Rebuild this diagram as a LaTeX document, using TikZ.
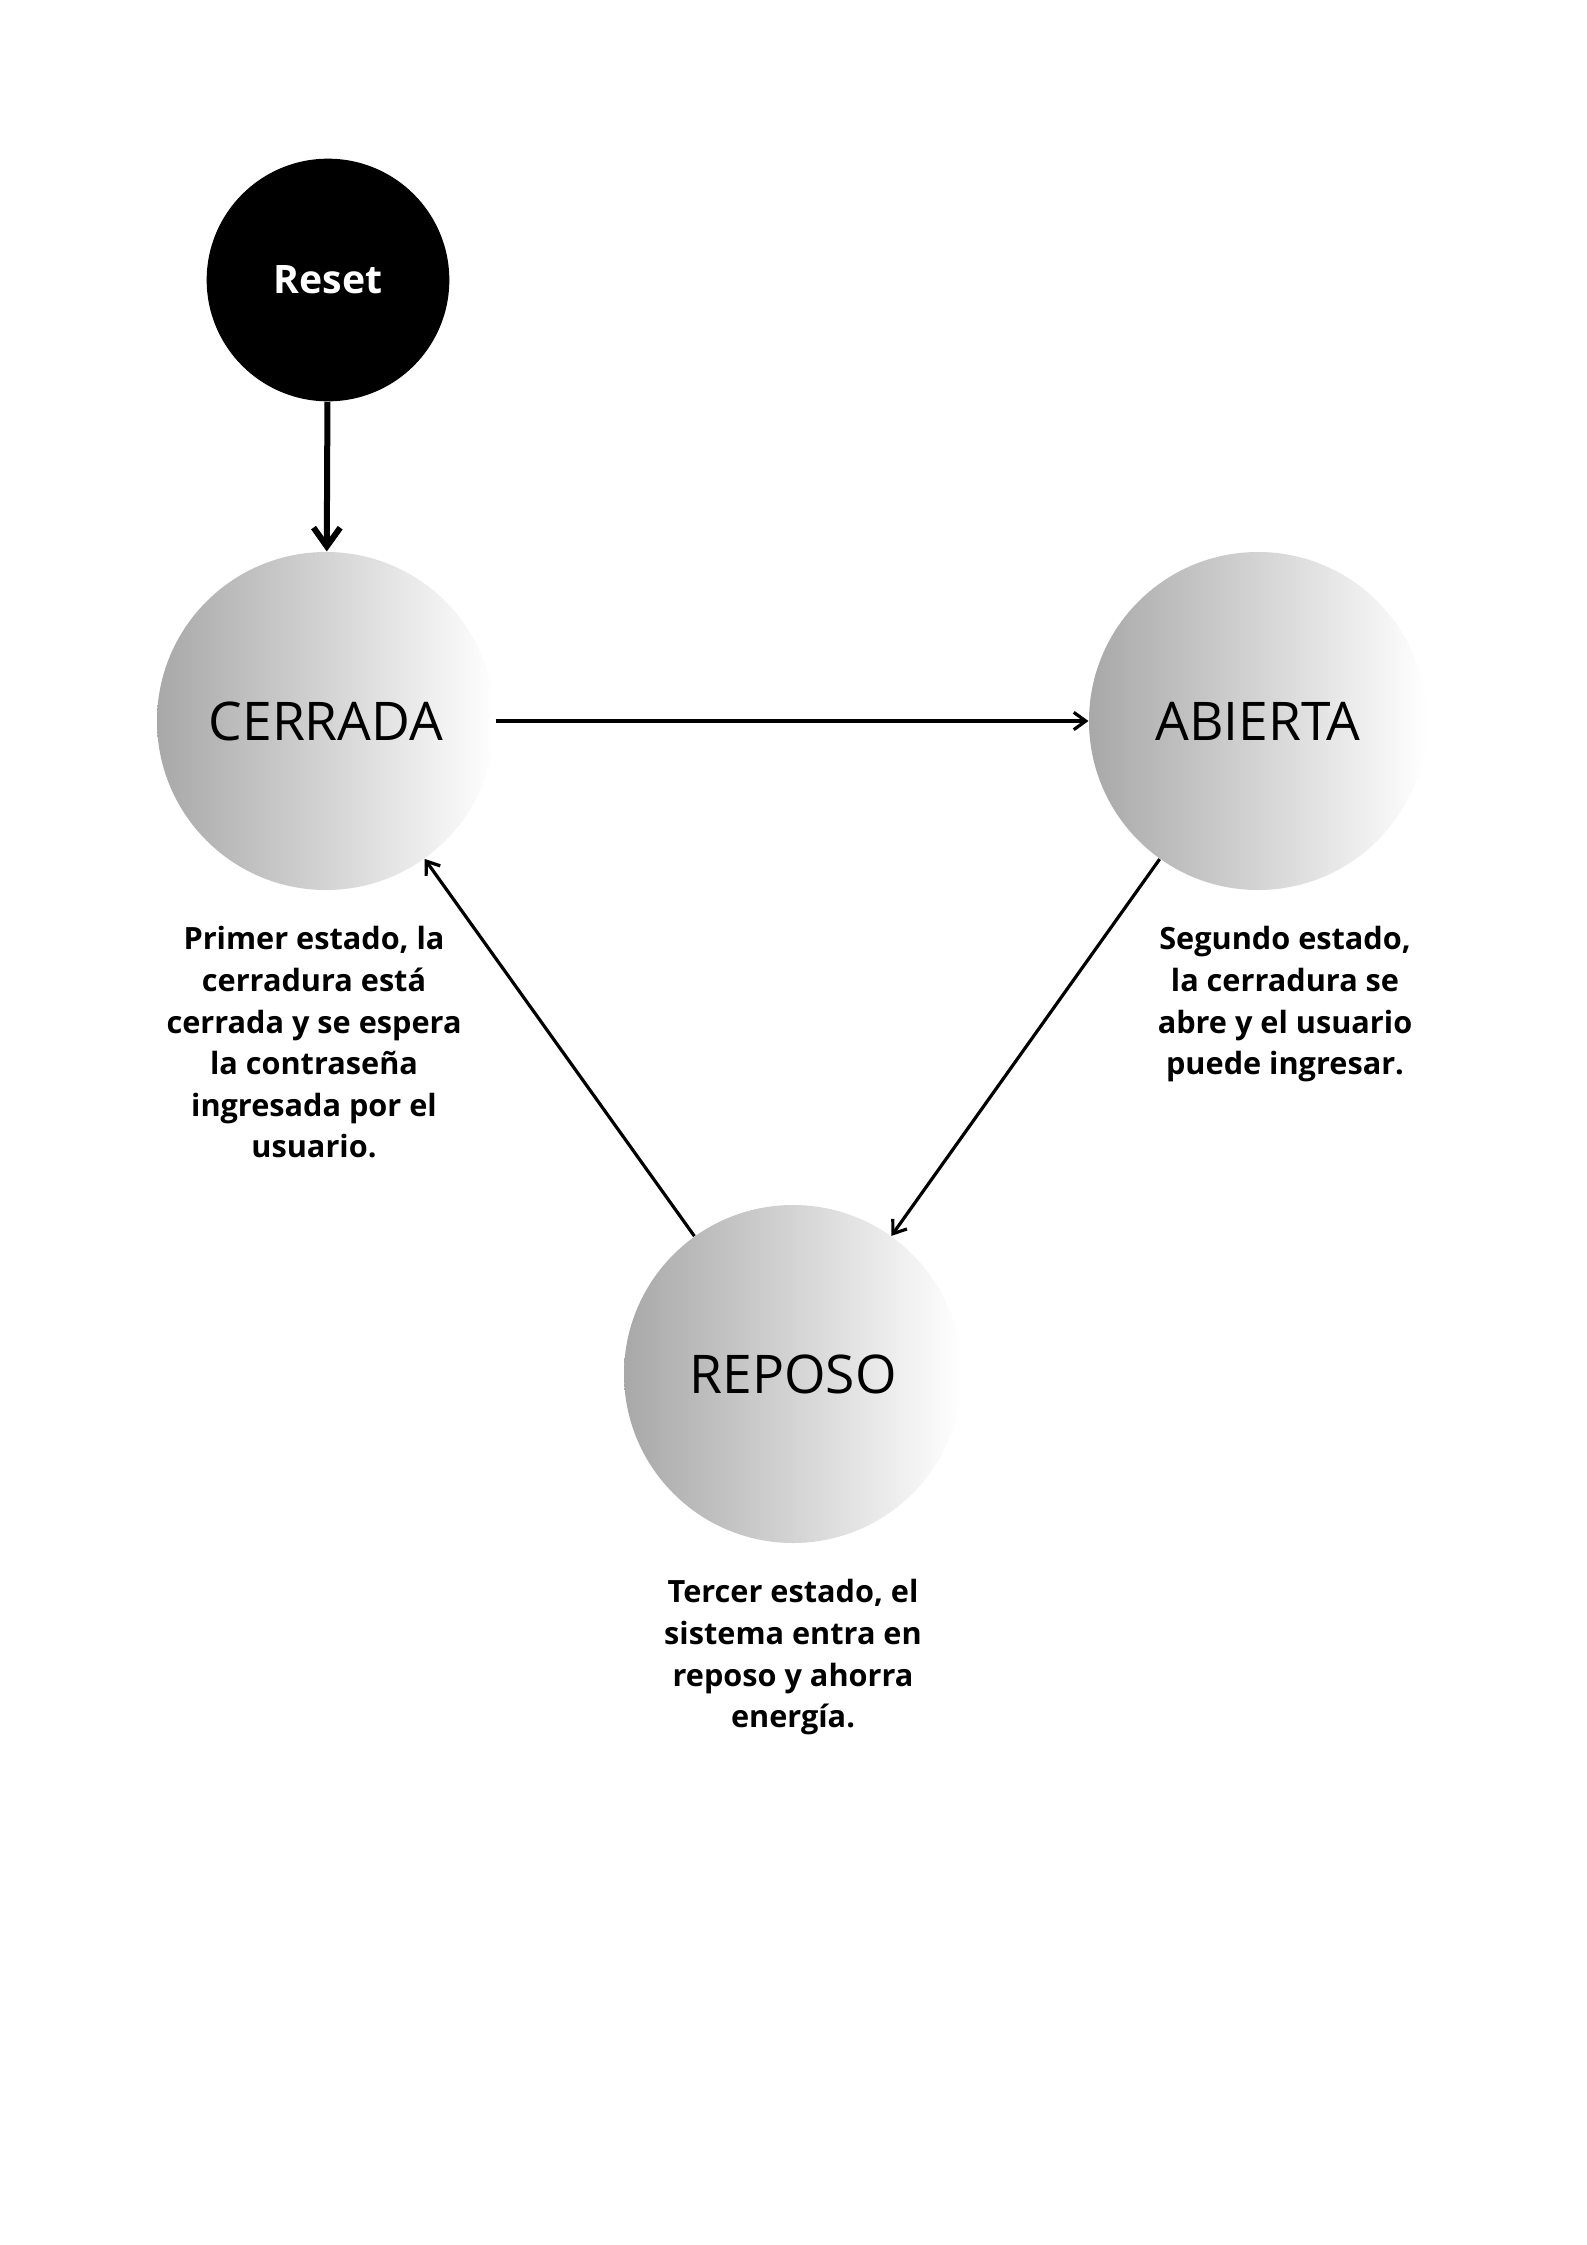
\documentclass[tikz,border=0pt]{standalone}
\usepackage{fontspec}
\setmainfont{Open Sans}
\usetikzlibrary{arrows.meta}
\definecolor{stategray}{RGB}{168,168,168}
\begin{document}
\begin{tikzpicture}[x=0.375pt,y=-0.375pt,
    state/.style={circle,inner sep=0pt,minimum size=126.75pt,left color=stategray,right color=white,
      font=\fontsize{20}{24}\selectfont},
    startstate/.style={circle,fill=black,inner sep=0pt,minimum size=91pt,text=white,
      font=\fontsize{14.7}{18}\selectfont\bfseries},
    note/.style={align=center,inner sep=0pt,anchor=north,font=\fontsize{11.5}{15.6}\selectfont\bfseries}]
  \fill[white] (0,0) rectangle (1587,2245);
  \draw
    (328,280) node[startstate] (reset){\raisebox{-1pt}{Reset}}
    (326,721) node[state] (cerrada){CERRADA}
    (1258,721) node[state] (abierta){ABIERTA}
    (793,1374) node[state] (reposo){REPOSO}
    (314,926) node[note] (notecerrada){Primer estado, la\\cerradura está\\cerrada y se espera\\la contraseña\\ingresada por el\\usuario.}
    (1285,926) node[note] (noteabierta){Segundo estado,\\la cerradura se\\abre y el usuario\\puede ingresar.}
    (793,1579) node[note] (notereposo){Tercer estado, el\\sistema entra en\\reposo y ahorra\\energía.};
  \begin{scope}[-{Straight Barb[length=4.5pt,width=6.5pt]},line width=1.2pt]
    \draw (cerrada) to (abierta);
    \draw (abierta) to (reposo);
    \draw (reposo) to (cerrada);
  \end{scope}
  \draw[-{Straight Barb[length=7pt,width=10pt]},line width=2.25pt] (reset) to (cerrada);
\end{tikzpicture}
\end{document}
